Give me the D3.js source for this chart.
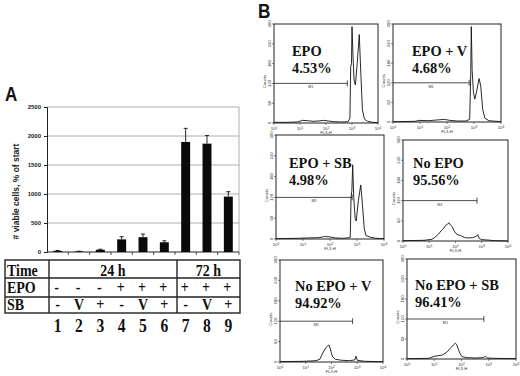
<!DOCTYPE html>
<html>
<head>
<meta charset="utf-8">
<script src="https://cdn.jsdelivr.net/npm/d3@7"></script>
<style>
  html, body { margin: 0; padding: 0; background: #fff; }
  svg { display: block; }
</style>
</head>
<body>
<svg id="chart" width="520" height="376"></svg>
<script>
// ---------------- DATA ----------------
const barLabels = ["1", "2", "3", "4", "5", "6", "7", "8", "9"];
const barValues = [20, 10, 40, 218, 255, 168, 1897, 1868, 955];
const barErrors = [6, 4, 8, 45, 55, 25, 235, 140, 85];
const yTicks = [0, 500, 1000, 1500, 2000, 2500];
const timeLabels = ["24 h", "72 h"];
const epoRow = ["-", "-", "-", "+", "+", "+", "+", "+", "+"];
const sbRow = ["-", "V", "+", "-", "V", "+", "-", "V", "+"];
const rowHeaders = ["Time", "EPO", "SB"];

const histTitles = ["EPO", "EPO + V", "EPO + SB", "No EPO", "No EPO + V", "No EPO + SB"];
const histPercents = ["4.53%", "4.68%", "4.98%", "95.56%", "94.92%", "96.41%"];
const countTicks = [0, 60, 120, 180, 240, 300];
const decadeTicks = [0, 1, 2, 3, 4];
const m1Range = [0, 2.82];
const m1Level = 120;

// [log10 FL3-H, counts]
const histEPO = [[0,2],[0.5,2],[0.9,3],[1.1,8],[1.3,7],[1.5,5],[1.7,6],[1.9,8],[2.1,6],[2.3,4],[2.6,3],[2.85,4],[2.92,15],[2.95,170],[2.98,180],[3.0,292],[3.04,200],[3.08,130],[3.13,115],[3.2,180],[3.28,268],[3.34,150],[3.4,40],[3.48,12],[3.6,5],[3.8,2],[4,1]];
const histEPOV = [[0,1],[0.8,2],[1.0,5],[1.3,4],[1.6,6],[1.9,8],[2.1,5],[2.4,3],[2.7,3],[2.84,8],[2.88,150],[2.9,292],[2.93,160],[2.98,90],[3.03,70],[3.1,95],[3.19,133],[3.25,110],[3.32,40],[3.4,12],[3.55,4],[4,1]];
const histEPOSB = [[0,1],[0.8,2],[1.2,3],[1.6,4],[1.8,7],[2.0,6],[2.2,3],[2.5,2],[2.75,4],[2.78,120],[2.81,140],[2.84,214],[2.88,120],[2.93,60],[2.97,52],[3.05,110],[3.14,156],[3.2,100],[3.27,30],[3.33,10],[3.5,5],[3.7,2],[4,1]];
const histNoEPO = [[0,1],[0.8,2],[1.1,5],[1.2,10],[1.35,20],[1.45,30],[1.55,38],[1.62,46],[1.7,50],[1.75,54],[1.8,48],[1.88,42],[1.95,30],[2.02,22],[2.1,18],[2.2,16],[2.35,10],[2.5,9],[2.65,10],[2.8,14],[2.85,19],[2.9,8],[3.0,4],[3.2,3],[3.5,1],[4,0]];
const histNoEPOV = [[0,1],[0.9,2],[1.2,3],[1.4,4],[1.55,8],[1.62,20],[1.7,32],[1.78,42],[1.86,48],[1.9,50],[1.95,40],[2.0,25],[2.05,15],[2.15,8],[2.4,5],[2.7,4],[2.9,6],[2.95,17],[3.0,5],[3.3,2],[4,1]];
const histNoEPOSB = [[0,1],[0.8,2],[1.0,8],[1.15,10],[1.3,12],[1.45,20],[1.55,28],[1.62,35],[1.7,42],[1.77,47],[1.82,44],[1.88,30],[1.95,16],[2.02,7],[2.2,4],[2.5,3],[2.8,4],[2.88,8],[2.95,3],[3.2,2],[4,1]];
const histSeries = [histEPO, histEPOV, histEPOSB, histNoEPO, histNoEPOV, histNoEPOSB];

// ---------------- LAYOUT ----------------
const svg = d3.select("#chart");
const SERIF = "'Liberation Serif', 'Times New Roman', serif";
const SANS = "'Liberation Sans', Arial, sans-serif";

function serifText(g, x, y, txt, size, anchor, sx) {
  return g.append("text")
    .attr("transform", `translate(${x},${y}) scale(${sx || 0.82},1)`)
    .attr("text-anchor", anchor || "start")
    .attr("font-family", SERIF)
    .attr("font-weight", "bold")
    .attr("font-size", size)
    .attr("fill", "#111")
    .text(txt);
}

// ---- Panel A ----
const A = { left: 47, right: 239, top: 107, bottom: 252 };
const gA = svg.append("g");

gA.append("text")
  .attr("transform", "translate(5,101) scale(0.85,1)")
  .attr("font-family", SANS).attr("font-weight", "bold")
  .attr("font-size", 20).attr("fill", "#111").text("A");

const x = d3.scaleBand().domain(barLabels).range([A.left, A.right])
  .paddingInner(0.58).paddingOuter(0.29);
const y = d3.scaleLinear().domain([0, 2500]).range([A.bottom, A.top]);

// gridlines
gA.append("g").selectAll("line").data(yTicks.filter(d => d > 0)).join("line")
  .attr("x1", A.left).attr("x2", A.right)
  .attr("y1", d => y(d)).attr("y2", d => y(d))
  .attr("stroke", "#9a9a9a").attr("stroke-width", 0.8);
gA.append("line").attr("x1", A.right).attr("x2", A.right)
  .attr("y1", A.top).attr("y2", A.bottom)
  .attr("stroke", "#9a9a9a").attr("stroke-width", 0.8);

// y axis
const yAxis = d3.axisLeft(y).tickValues(yTicks).tickFormat(d3.format("d")).tickSize(3).tickPadding(3);
const yg = gA.append("g").attr("transform", `translate(${A.left},0)`).call(yAxis);
yg.select(".domain").attr("stroke", "#222").attr("stroke-width", 1);
yg.selectAll(".tick line").attr("stroke", "#222");
yg.selectAll(".tick text").attr("font-family", SANS).attr("font-weight", "bold")
  .attr("font-size", 6).attr("fill", "#222");

// x axis baseline with ticks at category boundaries
gA.append("line").attr("x1", A.left).attr("x2", A.right)
  .attr("y1", A.bottom).attr("y2", A.bottom).attr("stroke", "#222").attr("stroke-width", 1);
gA.append("g").selectAll("line").data(barLabels).join("line")
  .attr("x1", d => x(d) + x.bandwidth() / 2 + x.step() / 2)
  .attr("x2", d => x(d) + x.bandwidth() / 2 + x.step() / 2)
  .attr("y1", A.bottom).attr("y2", A.bottom + 3)
  .attr("stroke", "#222").attr("stroke-width", 0.8);

// bars
gA.append("g").selectAll("rect").data(barValues).join("rect")
  .attr("x", (d, i) => x(barLabels[i]))
  .attr("width", x.bandwidth())
  .attr("y", d => y(d))
  .attr("height", d => y(0) - y(d))
  .attr("fill", "#0a0a0a");

// error bars
const eg = gA.append("g").attr("stroke", "#111").attr("stroke-width", 0.9);
barValues.forEach((v, i) => {
  const cx = x(barLabels[i]) + x.bandwidth() / 2;
  eg.append("line").attr("x1", cx).attr("x2", cx).attr("y1", y(v)).attr("y2", y(v + barErrors[i]));
  eg.append("line").attr("x1", cx - 2).attr("x2", cx + 2).attr("y1", y(v + barErrors[i])).attr("y2", y(v + barErrors[i]));
});

// y label
gA.append("text")
  .attr("transform", `translate(19,${(A.top + A.bottom) / 2 + 12}) rotate(-90)`)
  .attr("text-anchor", "middle")
  .attr("font-family", SANS).attr("font-weight", "bold")
  .attr("font-size", 8.5).attr("fill", "#222")
  .text("# viable cells, % of start");

// table
const T = { left: 5, right: 240, rows: [260, 278, 297, 313], col1: 49, col2: 177 };
const tg = gA.append("g").attr("stroke", "#222").attr("stroke-width", 1.4).attr("fill", "none");
tg.append("rect").attr("x", T.left).attr("y", T.rows[0]).attr("width", T.right - T.left).attr("height", T.rows[3] - T.rows[0]);
[T.rows[1], T.rows[2]].forEach(r => tg.append("line").attr("x1", T.left).attr("x2", T.right).attr("y1", r).attr("y2", r));
[T.col1, T.col2].forEach(c => tg.append("line").attr("x1", c).attr("x2", c).attr("y1", T.rows[0]).attr("y2", T.rows[3]));

const rowBase = [276, 293, 310];
rowHeaders.forEach((h, i) => serifText(gA, 7, rowBase[i], h, 17.5, "start", 0.8));
const cxOf = i => x(barLabels[i]) + x.bandwidth() / 2;
timeLabels.forEach((t, i) => {
  const mid = i === 0 ? (T.col1 + T.col2) / 2 : (T.col2 + T.right) / 2;
  serifText(gA, mid, rowBase[0], t, 17.5, "middle", 0.8);
});
epoRow.forEach((s, i) => serifText(gA, cxOf(i) - 1, rowBase[1], s, 17.5, "middle", 0.8));
sbRow.forEach((s, i) => serifText(gA, cxOf(i), rowBase[2], s, 17.5, "middle", 0.8));
barLabels.forEach((s, i) => serifText(gA, cxOf(i), 332, s, 19.5, "middle", 0.8));

// ---- Panel B ----
const gB = svg.append("g");
gB.append("text")
  .attr("transform", "translate(258,18) scale(0.82,1)")
  .attr("font-family", SANS).attr("font-weight", "bold")
  .attr("font-size", 21).attr("fill", "#111").text("B");

const boxes = [
  { x: 274, y: 24, w: 104, h: 99, tx: 18, ty1: 32, ty2: 49 },
  { x: 393, y: 24, w: 108, h: 98, tx: 19, ty1: 32, ty2: 49 },
  { x: 276, y: 135, w: 108, h: 104, tx: 13, ty1: 33, ty2: 50 },
  { x: 403, y: 140, w: 105, h: 101, tx: 10, ty1: 28, ty2: 45 },
  { x: 280, y: 260, w: 103, h: 102, tx: 15, ty1: 31, ty2: 48 },
  { x: 407, y: 259, w: 109, h: 100, tx: 8, ty1: 31, ty2: 48 }
];

histSeries.forEach((series, k) => {
  const b = boxes[k];
  const g = gB.append("g").attr("transform", `translate(${b.x},${b.y})`);
  const xs = d3.scaleLinear().domain([0, 4]).range([0, b.w]);
  const ys = d3.scaleLinear().domain([0, 300]).range([b.h, 0]);

  // frame
  g.append("rect").attr("width", b.w).attr("height", b.h)
    .attr("fill", "none").attr("stroke", "#222").attr("stroke-width", 1);

  // y ticks
  countTicks.forEach(v => {
    g.append("line").attr("x1", -2).attr("x2", 0).attr("y1", ys(v)).attr("y2", ys(v))
      .attr("stroke", "#333").attr("stroke-width", 0.6);
    g.append("text").attr("transform", `translate(-3,${ys(v)}) rotate(-90)`)
      .attr("text-anchor", "middle").attr("font-family", SANS)
      .attr("font-size", 4.2).attr("fill", "#333").text(v);
  });
  g.append("text").attr("transform", `translate(-8,${b.h * 0.58}) rotate(-90)`)
    .attr("text-anchor", "middle").attr("font-family", SANS)
    .attr("font-size", 4.2).attr("fill", "#333").text("Counts");

  // x ticks
  decadeTicks.forEach(dv => {
    g.append("line").attr("x1", xs(dv)).attr("x2", xs(dv)).attr("y1", b.h).attr("y2", b.h + 2)
      .attr("stroke", "#333").attr("stroke-width", 0.6);
    const t = g.append("text").attr("x", xs(dv)).attr("y", b.h + 7)
      .attr("text-anchor", "middle").attr("font-family", SANS)
      .attr("font-size", 4.2).attr("fill", "#333");
    t.append("tspan").text("10");
    t.append("tspan").attr("dy", -1.5).attr("font-size", 3.2).text(dv);
  });
  g.append("text").attr("x", xs(2)).attr("y", b.h + 11)
    .attr("text-anchor", "middle").attr("font-family", SANS)
    .attr("font-size", 4.2).attr("fill", "#333").text("FL3-H");

  // M1 marker
  const my = ys(m1Level);
  g.append("line").attr("x1", xs(m1Range[0])).attr("x2", xs(m1Range[1]))
    .attr("y1", my).attr("y2", my).attr("stroke", "#222").attr("stroke-width", 0.8);
  g.append("line").attr("x1", xs(m1Range[1])).attr("x2", xs(m1Range[1]))
    .attr("y1", my - 3).attr("y2", my + 3).attr("stroke", "#222").attr("stroke-width", 0.8);
  g.append("text").attr("x", xs((m1Range[0] + m1Range[1]) / 2)).attr("y", my + 5)
    .attr("text-anchor", "middle").attr("font-family", SANS)
    .attr("font-size", 3.8).attr("fill", "#333").text("M1");

  // histogram
  const line = d3.line().x(d => xs(d[0])).y(d => ys(d[1]));
  g.append("path").datum(series).attr("d", line)
    .attr("fill", "none").attr("stroke", "#111").attr("stroke-width", 0.9)
    .attr("stroke-linejoin", "round");

  // labels
  serifText(g, b.tx, b.ty1, histTitles[k], 15, "start", 0.96);
  serifText(g, b.tx, b.ty2, histPercents[k], 15, "start", 0.96);
});
</script>
</body>
</html>
